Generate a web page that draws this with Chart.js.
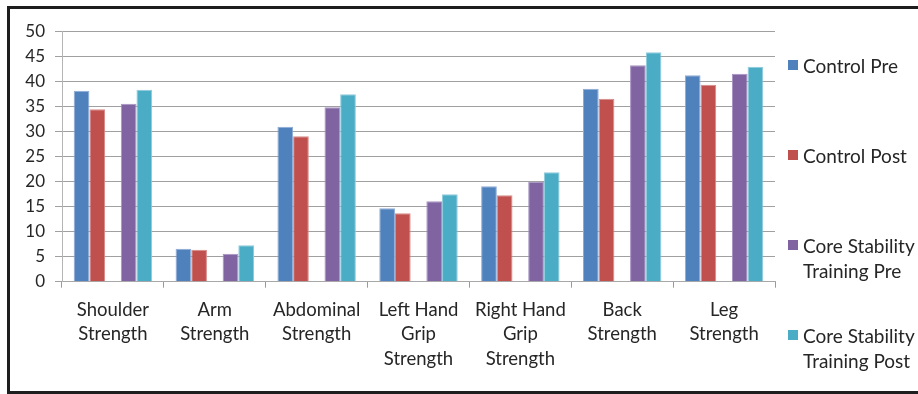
<!DOCTYPE html>
<html>
<head>
<meta charset="utf-8">
<script src="https://cdn.jsdelivr.net/npm/chart.js@4/dist/chart.umd.min.js"></script>
<style>
  html, body { margin: 0; padding: 0; background: #fff; width: 918px; height: 394px; overflow: hidden; }
  #wrap { position: relative; width: 918px; height: 394px; }
  #frame { position: absolute; left: 7px; top: 6px; width: 930px; height: 382px; border: 3px solid #1e1e1e; }
  #chart { position: absolute; left: 0; top: 0; }
  #legend { position: absolute; left: 0; top: 0; font-family: Lato, sans-serif; font-size: 19px; color: #262626; }
  .item { position: absolute; left: 788px; }
  .swatch { position: absolute; left: 0; width: 10px; height: 10px; }
  .text { position: absolute; left: 15px; white-space: nowrap; line-height: 25px; }
</style>
</head>
<body>
<div id="wrap">
  <div id="frame"></div>
  <canvas id="chart" width="918" height="394"></canvas>
  <div id="legend"></div>
</div>
<script>
// Strength categories (multi-line labels)
const categories = [
  ['Shoulder', 'Strength'],
  ['Arm', 'Strength'],
  ['Abdominal', 'Strength'],
  ['Left Hand', 'Grip', 'Strength'],
  ['Right Hand', 'Grip', 'Strength'],
  ['Back', 'Strength'],
  ['Leg', 'Strength']
];

// Group means
const controlPre  = [38.2, 6.6, 31.0, 14.7, 19.1, 38.6, 41.3];
const controlPost = [34.5, 6.4, 29.1, 13.7, 17.3, 36.6, 39.4];
const corePre     = [35.6, 5.6, 34.9, 16.1, 20.0, 43.3, 41.6];
const corePost    = [38.4, 7.3, 37.5, 17.5, 21.9, 45.9, 43.0];

// Value axis
const yMin = 0;
const yMax = 50;
const yStep = 5;

// Series names and colours
const seriesNames = [
  ['Control Pre'],
  ['Control Post'],
  ['Core Stability', 'Training Pre'],
  ['Core Stability', 'Training Post']
];
const seriesValues = [controlPre, controlPost, corePre, corePost];
const seriesColors = ['#4F81BD', '#C0504D', '#8064A2', '#4BACC6'];
const seriesEdges  = ['#8eaad6', '#d68a88', '#a893c2', '#8ccbdc'];

function barSet(i) {
  return {
    label: seriesNames[i].join(' '),
    data: seriesValues[i],
    backgroundColor: seriesColors[i],
    borderColor: seriesEdges[i],
    borderWidth: 1
  };
}

// An empty slot separates the control pair from the training pair
const datasets = [
  barSet(0),
  barSet(1),
  { label: '', data: [], backgroundColor: 'rgba(0,0,0,0)' },
  barSet(2),
  barSet(3)
];

new Chart(document.getElementById('chart'), {
  type: 'bar',
  data: { labels: categories, datasets: datasets },
  options: {
    responsive: false,
    animation: false,
    devicePixelRatio: 1,
    layout: { padding: { top: 31.7, right: 143, bottom: 0, left: 0 } },
    plugins: { legend: { display: false }, tooltip: { enabled: false } },
    datasets: { bar: { categoryPercentage: 0.77, barPercentage: 1 } },
    scales: {
      x: {
        offset: true,
        grid: { drawOnChartArea: false, drawTicks: true, tickLength: 6, color: '#9a9a9a', offset: true },
        border: { color: '#a8a8a8' },
        ticks: {
          font: { family: 'Lato', size: 18.5, lineHeight: 24.5 / 18.5 },
          color: '#262626',
          padding: 10,
          maxRotation: 0,
          autoSkip: false
        },
        afterFit(scale) { scale.height = 112.3; }
      },
      y: {
        min: yMin,
        max: yMax,
        ticks: {
          stepSize: yStep,
          font: { family: 'Lato', size: 17 },
          color: '#262626',
          padding: 10
        },
        grid: { color: '#a0a0a0', tickLength: 7 },
        border: { color: '#b4b4b4' },
        afterFit(scale) { scale.width = 62; }
      }
    }
  }
});

// Legend on the right, one entry per series
const legendCentres = [65, 155, 245, 335];
const legend = document.getElementById('legend');
seriesNames.forEach((lines, i) => {
  const item = document.createElement('div');
  item.className = 'item';
  item.style.top = legendCentres[i] + 'px';
  const sw = document.createElement('div');
  sw.className = 'swatch';
  sw.style.top = '-5px';
  sw.style.background = seriesColors[i];
  const tx = document.createElement('div');
  tx.className = 'text';
  tx.style.top = '-12.5px';
  tx.innerHTML = lines.join('<br>');
  item.appendChild(sw);
  item.appendChild(tx);
  legend.appendChild(item);
});
</script>
</body>
</html>
